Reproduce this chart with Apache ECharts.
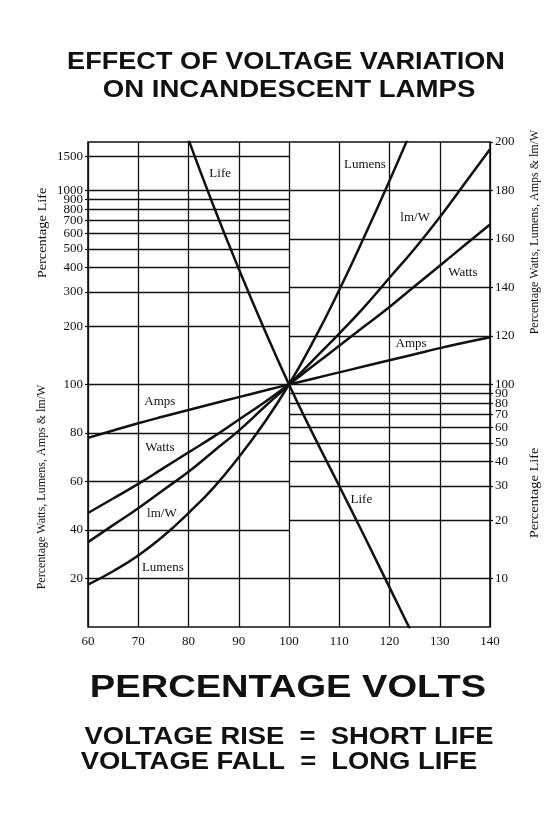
<!DOCTYPE html>
<html>
<head>
<meta charset="utf-8">
<script src="https://cdn.jsdelivr.net/npm/echarts@6/dist/echarts.min.js"></script>
<style>html,body{margin:0;padding:0;background:#fff;}#c{width:556px;height:818px;}</style>
</head>
<body>
<div id="c"></div>
<script>
// ---- data ----
const volts = [60,65,70,75,80,85,90,95,100,105,110,115,120,125,130,135,140];
const amps  = [78,81,84,86.8,89.5,92.2,94.8,97.4,100,102.5,105,107.5,110,112.5,115,117.3,119.5];
const watts = [47,53,59,65.5,72,78.5,85.5,92.5,100,108,116,124,132,140.5,149,157.5,166];
const lmPerW = [35,42,49,56.5,64,72.5,81,90.5,100,110.5,121,132,144,156,169,183,197];
const lumenVolts = [60,65,70,75,80,85,90,95,100,105,110,115,120,125];
const lumens = [17.5,23,29.5,37.5,47,57.5,70,84,100,118.5,139,161,184,208];
const lifeVolts = [80,85,90,95,100,105,110,115,120,125];
const life = [1830,830,395,195,100,54,30,16.5,9.0,4.9];

const xTicks = [60,70,80,90,100,110,120,130,140];
const leftLinearTicks = [20,40,60,80,100];
const rightLinearTicks = [120,140,160,180,200];
const leftLifeTicks = [200,300,400,500,600,700,800,900,1000,1500];
const rightLifeTicks = [10,20,30,40,50,60,70,80,100];
const rightLifeTicksExtra = [90];
const rightLifeLines = [10,20,30,40,50,60,70,80,90,100];

// curve name labels: [name, volts, value, axis]
const curveLabels = [
  ['Life', 86.3, 1216, 'life'],
  ['Life', 114.4, 25.5, 'life'],
  ['Lumens', 115.1, 190.5, 'lin'],
  ['lm/W', 125.1, 169, 'lin'],
  ['Watts', 134.6, 146, 'lin'],
  ['Amps', 124.3, 117, 'lin'],
  ['Amps', 74.3, 93, 'lin'],
  ['Watts', 74.3, 74, 'lin'],
  ['lm/W', 74.7, 46.6, 'lin'],
  ['Lumens', 74.9, 24.3, 'lin']
];

const FONT = 'Liberation Serif';
const INK = '#111';
const gridLine = {color: INK, width: 1.3, type: 'solid'};

function hLines(vals, x0, x1) {
  return vals.map(v => [{coord: [x0, v]}, {coord: [x1, v]}]);
}
function labelPoints(axis) {
  return curveLabels.filter(l => l[3] === axis).map(l => ({
    coord: [l[1], l[2]], value: l[0],
    label: {show: true, formatter: l[0], position: 'inside', color: INK,
            fontFamily: FONT, fontSize: 13}
  }));
}
const markLineBase = {silent: true, symbol: ['none','none'], label: {show: false},
  lineStyle: gridLine, animation: false, emphasis: {disabled: true}};

const chart = echarts.init(document.getElementById('c'), null, {renderer: 'canvas'});
const lifeMin = Math.pow(10, 0.75), lifeMax = Math.pow(10, 3.25);

function yAxisDef(type, pos, ticks, min, max) {
  return {
    type: type, position: pos, min: min, max: max,
    logBase: 10,
    axisLine: {show: false},
    splitLine: {show: false},
    minorSplitLine: {show: false},
    axisTick: {show: true, customValues: ticks, length: 3, inside: false, lineStyle: {color: INK, width: 1.2}},
    axisLabel: {show: true, customValues: ticks, color: INK, fontFamily: FONT, fontSize: 13, margin: 5,
                showMinLabel: true, showMaxLabel: true, hideOverlap: false,
                formatter: v => String(Math.round(v))}
  };
}

const titleFont = 'bold 24px "Liberation Sans"';
const noteFont = 'bold 23px "Liberation Sans"';

const option = {
  animation: false,
  backgroundColor: '#fff',
  grid: {left: 88, right: 66, top: 142, bottom: 191, show: true, borderColor: INK, borderWidth: 1.6, backgroundColor: 'transparent'},
  xAxis: {
    type: 'value', min: 60, max: 140, interval: 10,
    axisLine: {show: false}, axisTick: {show: false},
    splitLine: {show: true, lineStyle: gridLine},
    axisLabel: {color: INK, fontFamily: FONT, fontSize: 13, margin: 8}
  },
  yAxis: [
    yAxisDef('value', 'left', leftLinearTicks, 0, 200),
    yAxisDef('log', 'left', leftLifeTicks, lifeMin, lifeMax),
    yAxisDef('value', 'right', rightLinearTicks, 0, 200),
    yAxisDef('log', 'right', rightLifeTicks, lifeMin, lifeMax),
    yAxisDef('log', 'right', rightLifeTicksExtra, lifeMin, lifeMax)
  ],
  series: [
    {name: 'Amps', type: 'line', yAxisIndex: 0, data: volts.map((v,i)=>[v, amps[i]]),
     showSymbol: false, smooth: true, lineStyle: {color: INK, width: 2.5}, silent: true,
     markLine: Object.assign({}, markLineBase, {data: hLines(leftLinearTicks, 60, 100).concat(hLines(rightLinearTicks.slice(0,4), 100, 140))}),
     markPoint: {symbol: 'rect', symbolSize: 1, itemStyle: {color: 'rgba(0,0,0,0)'}, silent: true, data: labelPoints('lin')}},
    {name: 'Watts', type: 'line', yAxisIndex: 0, data: volts.map((v,i)=>[v, watts[i]]),
     showSymbol: false, smooth: true, lineStyle: {color: INK, width: 2.5}, silent: true},
    {name: 'lm/W', type: 'line', yAxisIndex: 0, data: volts.map((v,i)=>[v, lmPerW[i]]),
     showSymbol: false, smooth: true, lineStyle: {color: INK, width: 2.5}, silent: true},
    {name: 'Lumens', type: 'line', yAxisIndex: 0, data: lumenVolts.map((v,i)=>[v, lumens[i]]),
     showSymbol: false, smooth: true, lineStyle: {color: INK, width: 2.5}, silent: true, clip: true},
    {name: 'Life', type: 'line', yAxisIndex: 1, data: lifeVolts.map((v,i)=>[v, life[i]]),
     showSymbol: false, smooth: true, lineStyle: {color: INK, width: 2.5}, silent: true, clip: true,
     markLine: Object.assign({}, markLineBase, {data: hLines(leftLifeTicks, 60, 100).concat(hLines(rightLifeLines, 100, 140))}),
     markPoint: {symbol: 'rect', symbolSize: 1, itemStyle: {color: 'rgba(0,0,0,0)'}, silent: true, data: labelPoints('life')}}
  ],
  graphic: [
    {type: 'text', x: 286, y: 62, scaleX: 1.13, style: {text: 'EFFECT OF VOLTAGE VARIATION', font: titleFont, fill: INK, align: 'center', verticalAlign: 'middle'}},
    {type: 'text', x: 289, y: 90, scaleX: 1.15, style: {text: 'ON INCANDESCENT LAMPS', font: titleFont, fill: INK, align: 'center', verticalAlign: 'middle'}},
    {type: 'text', x: 288, y: 688, scaleX: 1.19, style: {text: 'PERCENTAGE VOLTS', font: 'bold 32px "Liberation Sans"', fill: INK, align: 'center', verticalAlign: 'middle'}},
    {type: 'text', x: 289, y: 738, scaleX: 1.19, style: {text: 'VOLTAGE RISE  =  SHORT LIFE', font: noteFont, fill: INK, align: 'center', verticalAlign: 'middle'}},
    {type: 'text', x: 279, y: 763, scaleX: 1.19, style: {text: 'VOLTAGE FALL  =  LONG LIFE', font: noteFont, fill: INK, align: 'center', verticalAlign: 'middle'}},
    {type: 'text', x: 43, y: 233, rotation: Math.PI/2, scaleX: 1.2, style: {text: 'Percentage Life', font: '12px "Liberation Serif"', fill: INK, align: 'center', verticalAlign: 'middle'}},
    {type: 'text', x: 42, y: 487, rotation: Math.PI/2, style: {text: 'Percentage Watts, Lumens, Amps & lm/W', font: '12px "Liberation Serif"', fill: INK, align: 'center', verticalAlign: 'middle'}},
    {type: 'text', x: 535, y: 232, rotation: Math.PI/2, style: {text: 'Percentage Watts, Lumens, Amps & lm/W', font: '12px "Liberation Serif"', fill: INK, align: 'center', verticalAlign: 'middle'}},
    {type: 'text', x: 535, y: 493, rotation: Math.PI/2, scaleX: 1.2, style: {text: 'Percentage Life', font: '12px "Liberation Serif"', fill: INK, align: 'center', verticalAlign: 'middle'}}
  ]
};
chart.setOption(option);
</script>
</body>
</html>
